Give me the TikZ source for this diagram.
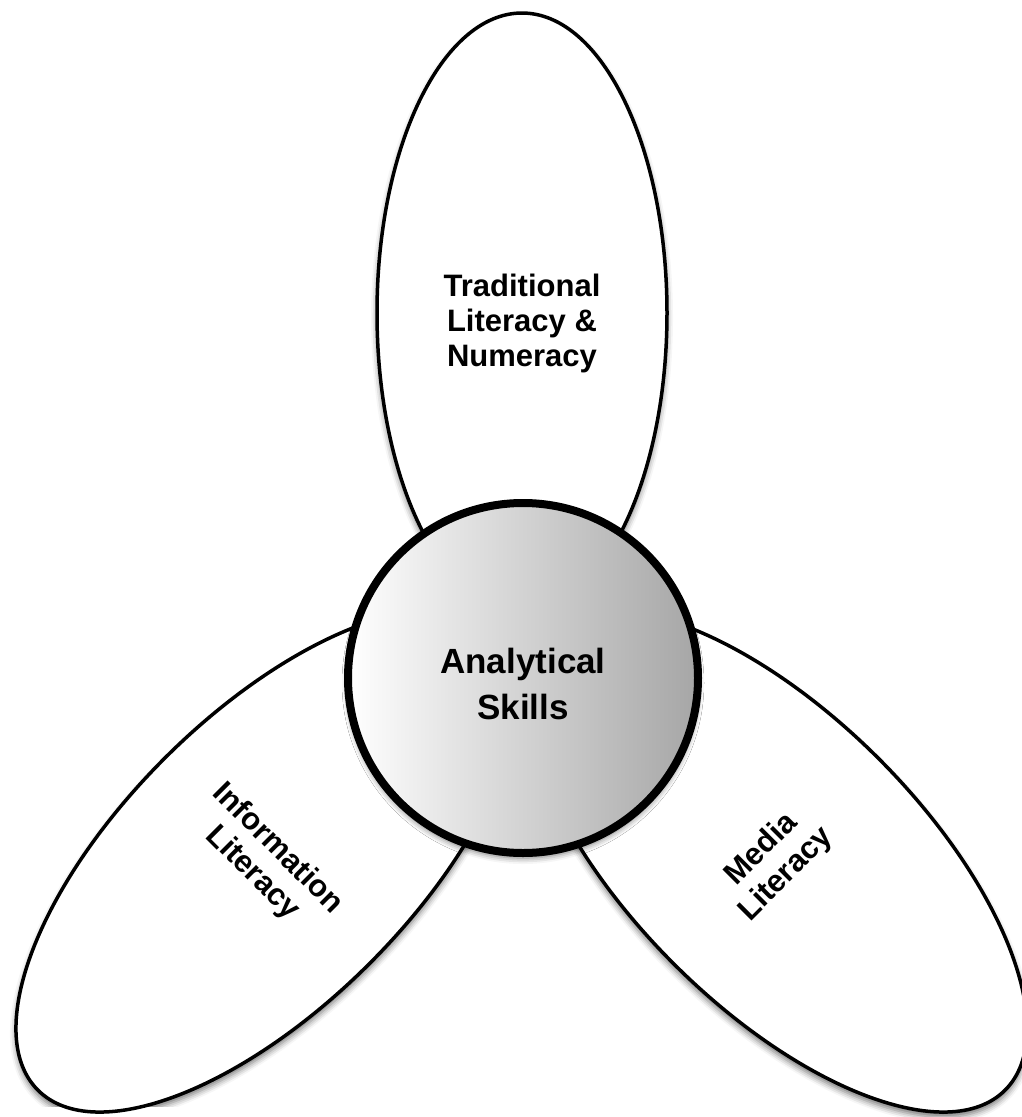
\documentclass[tikz,border=0pt]{standalone}
\usepackage{fontspec}
\setmainfont{Liberation Sans}
\usetikzlibrary{shapes.geometric,shadows.blur}

\tikzstyle{petal}=[ellipse,draw=black,line width=3.5pt,fill=white,inner sep=0pt,
  minimum width=290pt,
  blur shadow={shadow xshift=0pt,shadow yshift=-5pt,shadow blur radius=6pt,shadow opacity=55}]
\tikzstyle{core}=[circle,draw=black,line width=8pt,minimum size=350pt,inner sep=0pt,
  left color=white,right color=black!35,
  blur shadow={shadow xshift=0pt,shadow yshift=-5pt,shadow blur radius=6pt,shadow opacity=55}]
\tikzstyle{caption}=[align=center,inner sep=0pt,font=\fontsize{31}{35}\selectfont\bfseries]

\begin{document}
\begin{tikzpicture}[x=1pt,y=-1pt]
  \useasboundingbox (0,0) rectangle (1022,1117);

  % three petals behind the core
  \node[petal,minimum height=600pt] (trad) at (522,313) {};
  \node[petal,minimum height=648pt,rotate=-45] (info) at (267,861) {};
  \node[petal,minimum height=648pt,rotate=45] (media) at (776,861) {};

  % core circle
  \node[core] (skills) at (523,678) {};

  % captions
  \node[caption] (trad-text) at (522,323) {Traditional\\Literacy \&\\Numeracy};
  \node[caption,rotate=-45] (info-text) at (265,861) {Information\\Literacy};
  \node[caption,rotate=45] (media-text) at (774,862) {Media\\Literacy};
  \node[caption,font=\fontsize{35}{46}\selectfont\bfseries] (skills-text)
    at (523,684) {Analytical\\Skills};

\end{tikzpicture}
\end{document}
